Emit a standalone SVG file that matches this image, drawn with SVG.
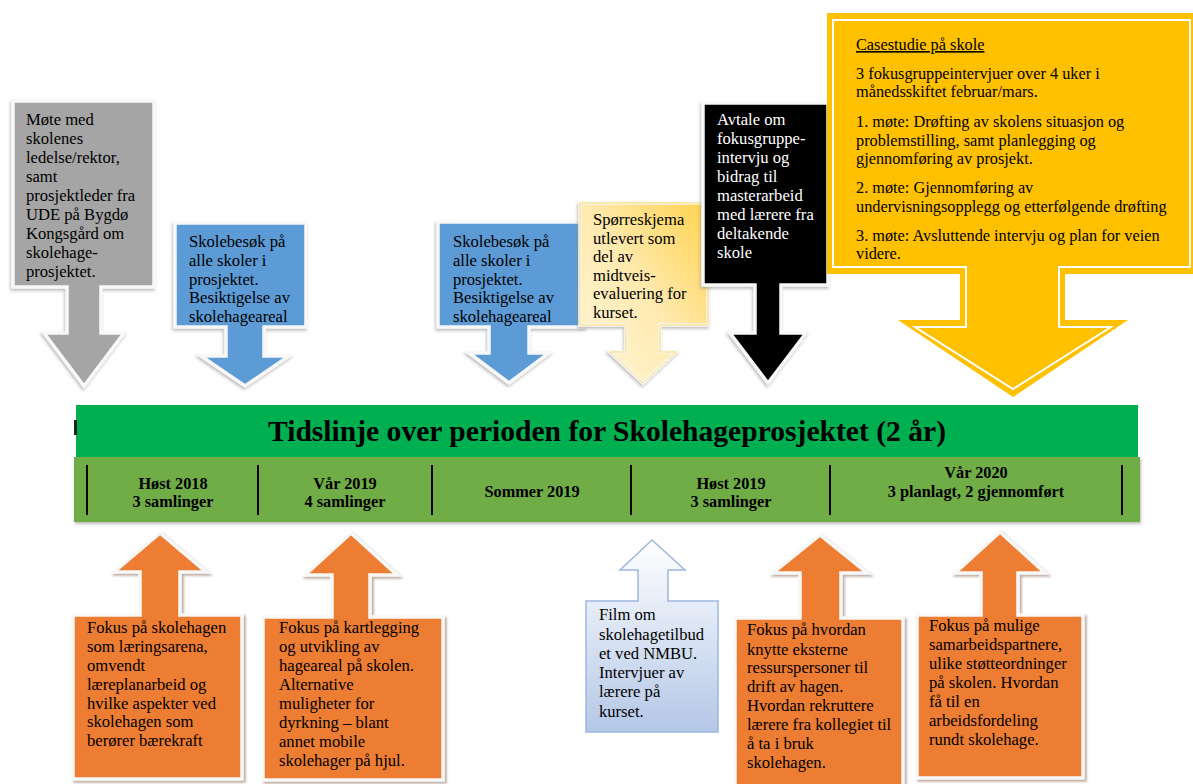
<svg xmlns="http://www.w3.org/2000/svg" width="1193" height="784" viewBox="0 0 1193 784">
<defs>
<filter id="sh" x="-10%" y="-10%" width="120%" height="120%">
<feDropShadow dx="-1" dy="2" stdDeviation="1.5" flood-color="#888" flood-opacity="0.55"/>
</filter>
<filter id="shb" x="-10%" y="-10%" width="120%" height="120%">
<feDropShadow dx="2" dy="2" stdDeviation="1.2" flood-color="#8a6a55" flood-opacity="0.55"/>
</filter>
<filter id="shg" x="-5%" y="-20%" width="110%" height="140%">
<feDropShadow dx="1" dy="2" stdDeviation="1.5" flood-color="#777" flood-opacity="0.5"/>
</filter>
<linearGradient id="gy" x1="0" y1="1" x2="1" y2="0">
<stop offset="0" stop-color="#fff6d9"/>
<stop offset="0.5" stop-color="#ffeab0"/>
<stop offset="1" stop-color="#ffd24d"/>
</linearGradient>
<linearGradient id="gb" x1="0" y1="0" x2="0" y2="1">
<stop offset="0" stop-color="#ffffff"/>
<stop offset="1" stop-color="#b4c7e7"/>
</linearGradient>
</defs>
<style>
.co{stroke:#f8f8f8;stroke-width:3.5;stroke-linejoin:miter;filter:url(#sh)}
.cb{stroke:#f8f8f8;stroke-width:3.5;filter:url(#shb)}
.t{font-family:"Liberation Serif","Times New Roman",serif;font-size:16.6px;fill:#000}
.tw{font-family:"Liberation Serif","Times New Roman",serif;font-size:16.6px;fill:#fff}
.ty{font-family:"Liberation Serif","Times New Roman",serif;font-size:16.3px;fill:#000}
.tl{font-family:"Liberation Serif","Times New Roman",serif;font-size:16.3px;font-weight:bold;fill:#000;text-anchor:middle}
.title{font-family:"Liberation Serif","Times New Roman",serif;font-size:29px;font-weight:bold;fill:#000;text-anchor:middle}
.div{stroke:#000;stroke-width:2}
</style>
<rect width="1193" height="784" fill="#fff"/>

<g id="connectors"></g>

<g id="n-gray">
<polygon class="co" fill="#a5a5a5" points="13,101 154,101 154,287 101,287 101,333 124,333 84,386 44,333 67,333 67,287 13,287"/>
<text class="t"><tspan x="26" y="125">Møte med</tspan><tspan x="26" y="144">skolenes</tspan><tspan x="26" y="163">ledelse/rektor,</tspan><tspan x="26" y="182">samt</tspan><tspan x="26" y="201">prosjektleder fra</tspan><tspan x="26" y="220">UDE på Bygdø</tspan><tspan x="26" y="239">Kongsgård om</tspan><tspan x="26" y="258">skolehage-</tspan><tspan x="26" y="277">prosjektet.</tspan></text>
</g>

<g id="n-blue1">
<polygon class="co" fill="#5b9bd5" points="175,223 306,223 306,327 264,327 264,356 289,356 245,386 201,356 226,356 226,327 175,327"/>
<text class="t"><tspan x="189" y="247">Skolebesøk på</tspan><tspan x="189" y="266">alle skoler i</tspan><tspan x="189" y="285">prosjektet.</tspan><tspan x="189" y="303">Besiktigelse av</tspan><tspan x="189" y="322">skolehageareal</tspan></text>
</g>

<g id="n-blue2">
<polygon class="co" fill="#5b9bd5" points="438,222 585,222 585,327 529,327 529,353 549,353 509,383 469,353 489,353 489,327 438,327"/>
<text class="t"><tspan x="453" y="247">Skolebesøk på</tspan><tspan x="453" y="266">alle skoler i</tspan><tspan x="453" y="285">prosjektet.</tspan><tspan x="453" y="303">Besiktigelse av</tspan><tspan x="453" y="322">skolehageareal</tspan></text>
</g>

<g id="n-yellow-small">
<polygon class="co" fill="url(#gy)" points="580,203 708,203 708,325 660,325 660,352 676,352 643,383 610,352 626,352 626,325 580,325"/>
<polygon fill="none" stroke="#ffd966" stroke-width="1" points="580,203 708,203 708,325 660,325 660,352 676,352 643,383 610,352 626,352 626,325 580,325"/>
<text class="t"><tspan x="593" y="225">Spørreskjema</tspan><tspan x="593" y="244">utlevert som</tspan><tspan x="593" y="262">del av</tspan><tspan x="593" y="281">midtveis-</tspan><tspan x="593" y="299">evaluering for</tspan><tspan x="593" y="318">kurset.</tspan></text>
</g>

<g id="n-black">
<polygon class="co" fill="#000" points="703,103 828,103 828,285 781,285 781,333 806,333 768,383 730,333 755,333 755,285 703,285"/>
<text class="tw"><tspan x="717" y="125">Avtale om</tspan><tspan x="717" y="144">fokusgruppe-</tspan><tspan x="717" y="163">intervju og</tspan><tspan x="717" y="182">bidrag til</tspan><tspan x="717" y="201">masterarbeid</tspan><tspan x="717" y="220">med lærere fra</tspan><tspan x="717" y="239">deltakende</tspan><tspan x="717" y="258">skole</tspan></text>
</g>

<g id="n-case">
<polygon fill="#ffc000" points="827,13 1200,13 1200,274 1065,274 1065,320 1128,320 1013,397 898,320 960,320 960,274 827,274"/>
<polygon fill="#ffc000" stroke="#fff" stroke-width="2" points="833,20 1190,20 1190,267 1059,267 1059,327 1111,327 1013,389 915,327 966,327 966,267 833,267"/>
<text class="ty"><tspan x="856" y="50" text-decoration="underline">Casestudie på skole</tspan><tspan x="856" y="79">3 fokusgruppeintervjuer over 4 uker i</tspan><tspan x="856" y="97">månedsskiftet februar/mars.</tspan><tspan x="856" y="127">1. møte: Drøfting av skolens situasjon og</tspan><tspan x="856" y="146">problemstilling, samt planlegging og</tspan><tspan x="856" y="164">gjennomføring av prosjekt.</tspan><tspan x="856" y="193">2. møte: Gjennomføring av</tspan><tspan x="856" y="212">undervisningsopplegg og etterfølgende drøfting</tspan><tspan x="856" y="241">3. møte: Avsluttende intervju og plan for veien</tspan><tspan x="856" y="259">videre.</tspan></text>
</g>

<g id="n-timeline">
<rect x="76" y="405" width="1062" height="52" fill="#00b050"/>
<rect x="74" y="420" width="3" height="15" fill="#222"/>
<text class="title" x="607" y="441" textLength="678" lengthAdjust="spacingAndGlyphs">Tidslinje over perioden for Skolehageprosjektet (2 år)</text>
<rect x="74" y="457" width="1066" height="65" fill="#70ad47" filter="url(#shg)"/>
<line class="div" x1="87" y1="465" x2="87" y2="515"/>
<line class="div" x1="258" y1="465" x2="258" y2="515"/>
<line class="div" x1="432" y1="465" x2="432" y2="515"/>
<line class="div" x1="631" y1="465" x2="631" y2="515"/>
<line class="div" x1="830" y1="465" x2="830" y2="515"/>
<line class="div" x1="1122" y1="465" x2="1122" y2="515"/>
<text class="tl"><tspan x="173" y="489">Høst 2018</tspan><tspan x="173" y="507">3 samlinger</tspan></text>
<text class="tl"><tspan x="345" y="489">Vår 2019</tspan><tspan x="345" y="507">4 samlinger</tspan></text>
<text class="tl" x="532" y="497">Sommer 2019</text>
<text class="tl"><tspan x="731" y="489">Høst 2019</tspan><tspan x="731" y="507">3 samlinger</tspan></text>
<text class="tl"><tspan x="976" y="478">Vår 2020</tspan><tspan x="976" y="497">3 planlagt, 2 gjennomført</tspan></text>
</g>

<g id="n-orange1">
<polygon class="cb" fill="#ed7d31" points="73,615 140,615 140,572 114,572 160,533 206,572 180,572 180,615 242,615 242,779 73,779"/>
<text class="t"><tspan x="87" y="633">Fokus på skolehagen</tspan><tspan x="87" y="652">som læringsarena,</tspan><tspan x="87" y="671">omvendt</tspan><tspan x="87" y="690">læreplanarbeid og</tspan><tspan x="87" y="709">hvilke aspekter ved</tspan><tspan x="87" y="727">skolehagen som</tspan><tspan x="87" y="746">berører bærekraft</tspan></text>
</g>

<g id="n-orange2">
<polygon class="cb" fill="#ed7d31" points="263,617 332,617 332,575 305,575 351,533 397,575 370,575 370,617 443,617 443,780 263,780"/>
<text class="t"><tspan x="279" y="633">Fokus på kartlegging</tspan><tspan x="279" y="652">og utvikling av</tspan><tspan x="279" y="671">hageareal på skolen.</tspan><tspan x="279" y="690">Alternative</tspan><tspan x="279" y="709">muligheter for</tspan><tspan x="279" y="728">dyrkning – blant</tspan><tspan x="279" y="747">annet mobile</tspan><tspan x="279" y="766">skolehager på hjul.</tspan></text>
</g>

<g id="n-film">
<polygon fill="url(#gb)" stroke="#9db7e0" stroke-width="1.5" points="586,601 638,601 638,570 620,570 652,540 685,570 668,570 668,601 718,601 718,732 586,732"/>
<text class="t"><tspan x="599" y="620">Film om</tspan><tspan x="599" y="640">skolehagetilbud</tspan><tspan x="599" y="659">et ved NMBU.</tspan><tspan x="599" y="678">Intervjuer av</tspan><tspan x="599" y="697">lærere på</tspan><tspan x="599" y="717">kurset.</tspan></text>
</g>

<g id="n-orange3">
<polygon class="cb" fill="#ed7d31" points="735,618 800,618 800,573 773,573 820,535 867,573 841,573 841,618 903,618 903,792 735,792"/>
<text class="t"><tspan x="747" y="635">Fokus på hvordan</tspan><tspan x="747" y="655">knytte eksterne</tspan><tspan x="747" y="673">ressurspersoner til</tspan><tspan x="747" y="692">drift av hagen.</tspan><tspan x="747" y="711">Hvordan rekruttere</tspan><tspan x="747" y="730">lærere fra kollegiet til</tspan><tspan x="747" y="749">å ta i bruk</tspan><tspan x="747" y="768">skolehagen.</tspan></text>
</g>

<g id="n-orange4">
<polygon class="cb" fill="#ed7d31" points="917,615 981,615 981,573 955,573 1000,532 1045,573 1018,573 1018,615 1083,615 1083,778 917,778"/>
<text class="t"><tspan x="929" y="631">Fokus på mulige</tspan><tspan x="929" y="650">samarbeidspartnere,</tspan><tspan x="929" y="669">ulike støtteordninger</tspan><tspan x="929" y="688">på skolen. Hvordan</tspan><tspan x="929" y="707">få til en</tspan><tspan x="929" y="726">arbeidsfordeling</tspan><tspan x="929" y="745">rundt skolehage.</tspan></text>
</g>
</svg>
